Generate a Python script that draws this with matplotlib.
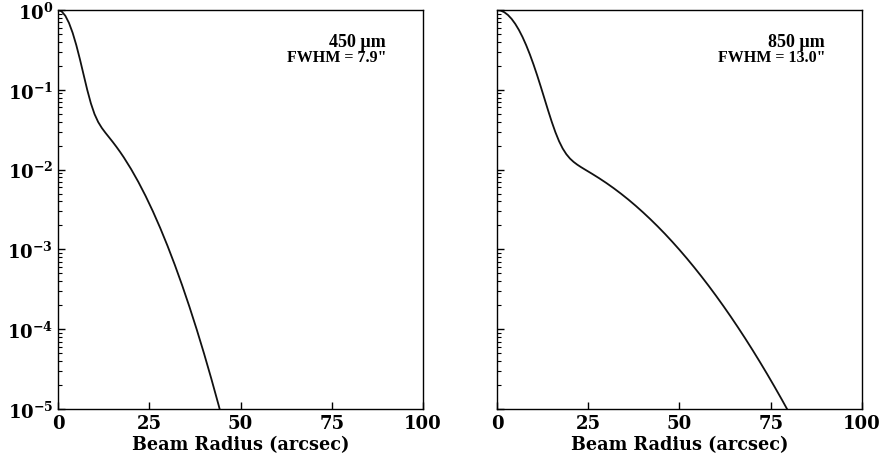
import os
import matplotlib
matplotlib.use("Agg")
import matplotlib.pyplot as plt
from matplotlib import font_manager as fm
from matplotlib.ticker import LogLocator, NullFormatter

# make sure the bundled DejaVu Serif faces are registered
ttf_dir = os.path.join(matplotlib.get_data_path(), "fonts", "ttf")
for name in ["DejaVuSerif.ttf", "DejaVuSerif-Bold.ttf"]:
    path = os.path.join(ttf_dir, name)
    if os.path.exists(path):
        fm.fontManager.addfont(path)

plt.rcParams["font.family"] = "serif"
plt.rcParams["font.serif"] = ["DejaVu Serif"]
plt.rcParams["font.weight"] = "bold"
plt.rcParams["mathtext.fontset"] = "dejavuserif"
plt.rcParams["mathtext.default"] = "bf"

# Normalised beam profiles (main beam + error beam), read per radius
r_450 = [0, 1, 2, 3, 4, 5, 6, 7, 8, 9, 10, 11, 12, 13, 14, 15, 16, 17, 18,
         20, 22, 24, 26, 28, 30, 32, 34, 36, 38, 40, 42, 44, 46]
beam_450 = [1.0, 0.9589, 0.8459, 0.6879, 0.5177, 0.3633, 0.2410, 0.1549,
            0.0999, 0.06761, 0.04956, 0.03943, 0.03324, 0.02887, 0.02531,
            0.02216, 0.01928, 0.01665, 0.01426, 0.010175, 0.00701, 0.004661,
            0.002991, 0.001852, 0.001107, 6.388e-4, 3.557e-4, 1.911e-4,
            9.909e-5, 4.958e-5, 2.394e-5, 1.117e-5, 5.026e-6]

r_850 = [0, 1, 2, 3, 4, 5, 6, 7, 8, 9, 10, 11, 12, 13, 14, 15, 16, 17, 18,
         19, 20, 21, 22, 23, 24, 25, 26, 28, 30, 32, 34, 36, 38, 40, 42, 44,
         46, 48, 50, 52, 54, 56, 58, 60, 62, 64, 66, 68, 70, 72, 74, 76, 78,
         80, 82]
beam_850 = [1.0, 0.98403, 0.93765, 0.86526, 0.77337, 0.66969, 0.56205,
            0.45751, 0.36146, 0.27761, 0.20770, 0.15189, 0.10911, 0.07757,
            0.05512, 0.03969, 0.02940, 0.02268, 0.01836, 0.01558, 0.01374,
            0.01247, 0.01152, 0.01075, 0.01008, 0.009462, 0.008881, 0.007788,
            0.006771, 0.005832, 0.004976, 0.004205, 0.003518, 0.002915,
            0.002393, 0.001946, 0.001568, 0.00125, 9.872e-4, 7.723e-4,
            5.982e-4, 4.591e-4, 3.491e-4, 2.627e-4, 1.959e-4, 1.447e-4,
            1.058e-4, 7.666e-5, 5.499e-5, 3.906e-5, 2.749e-5, 1.915e-5,
            1.322e-5, 9.039e-6, 6.12e-6]

bands = ["450 µm", "850 µm"]
fwhm_labels = ['FWHM = 7.9"', 'FWHM = 13.0"']

fig = plt.figure(figsize=(8.82, 4.56), dpi=100)
ax1 = fig.add_axes([0.0658, 0.1009, 0.4138, 0.875])
ax2 = fig.add_axes([0.5635, 0.1009, 0.4138, 0.875])

for ax, r, beam, band, fwhm in zip((ax1, ax2), (r_450, r_850),
                                   (beam_450, beam_850), bands, fwhm_labels):
    ax.plot(r, beam, color="#111111", lw=1.3)
    ax.set_yscale("log")
    ax.set_xlim(0, 100)
    ax.set_ylim(1e-5, 1)
    ax.set_xticks([0, 25, 50, 75, 100])
    ax.yaxis.set_major_locator(LogLocator(base=10, numticks=10))
    ax.yaxis.set_minor_locator(LogLocator(base=10, subs=range(2, 10), numticks=10))
    ax.tick_params(which="both", direction="in", labelsize=13)
    ax.tick_params(which="major", length=5, width=1)
    ax.tick_params(which="minor", length=3, width=0.8)
    ax.set_xlabel("Beam Radius (arcsec)", fontsize=12.7, fontweight="bold",
                  labelpad=2)
    for s in ax.spines.values():
        s.set_linewidth(1.0)
    ax.text(0.899, 0.91, band, transform=ax.transAxes, ha="right",
            fontsize=13, fontweight="bold", family="Liberation Serif")
    ax.text(0.899, 0.872, fwhm, transform=ax.transAxes, ha="right",
            fontsize=11.5, fontweight="bold", family="Liberation Serif")

ax2.yaxis.set_major_formatter(NullFormatter())
ax2.yaxis.set_minor_formatter(NullFormatter())

fig.savefig("out.png", dpi=100)
